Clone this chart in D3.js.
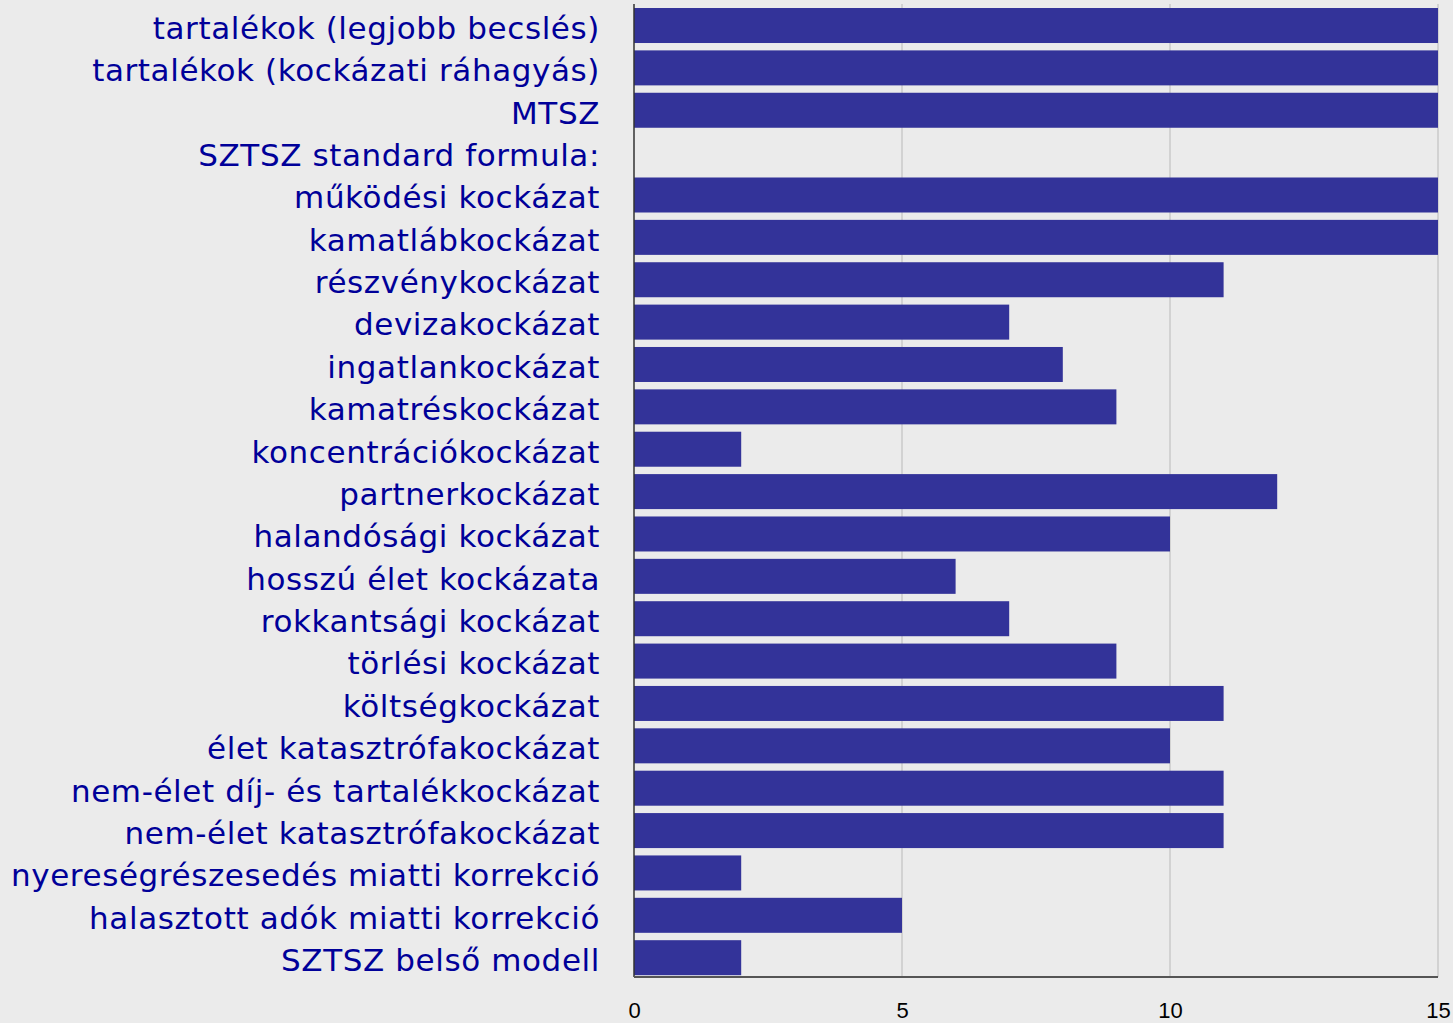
<!DOCTYPE html>
<html>
<head>
<meta charset="utf-8">
<script src="https://cdn.jsdelivr.net/npm/d3@7"></script>
<style>
  body { margin: 0; background: #ebebeb; }
  svg { display: block; }
</style>
</head>
<body>
<div id="chart"></div>
<script>
// Categories (top to bottom) and values
const categories = [
    "tartalékok (legjobb becslés)",
    "tartalékok (kockázati ráhagyás)",
    "MTSZ",
    "SZTSZ standard formula:",
    "működési kockázat",
    "kamatlábkockázat",
    "részvénykockázat",
    "devizakockázat",
    "ingatlankockázat",
    "kamatréskockázat",
    "koncentrációkockázat",
    "partnerkockázat",
    "halandósági kockázat",
    "hosszú élet kockázata",
    "rokkantsági kockázat",
    "törlési kockázat",
    "költségkockázat",
    "élet katasztrófakockázat",
    "nem-élet díj- és tartalékkockázat",
    "nem-élet katasztrófakockázat",
    "nyereségrészesedés miatti korrekció",
    "halasztott adók miatti korrekció",
    "SZTSZ belső modell"
];
const values = [15, 15, 15, null, 15, 15, 11, 7, 8, 9, 2, 12, 10, 6, 7, 9, 11, 10, 11, 11, 2, 5, 2];
const xTicks = [0, 5, 10, 15];

const data = categories.map((c, i) => ({ category: c, value: values[i] }));

const W = 1453, H = 1023;
const margin = { top: 4, right: 15, bottom: 46, left: 634 };
const width = W - margin.left - margin.right,
    height = H - margin.top - margin.bottom;

const svg = d3.select("#chart")
    .append("svg")
    .attr("width", W)
    .attr("height", H);

svg.append("rect")
    .attr("width", W)
    .attr("height", H)
    .attr("fill", "#ebebeb");

const chartSvg = svg.append("g")
    .attr("transform", `translate(${margin.left}, ${margin.top})`);

const x = d3.scaleLinear()
    .domain([0, 15])
    .range([0, width]);

const y = d3.scaleBand()
    .domain(categories)
    .range([0.2, height + 2])
    .paddingInner(0.174)
    .paddingOuter(0.09);

// Gridlines
chartSvg.selectAll(".grid")
    .data(xTicks.filter(d => d > 0))
    .enter()
    .append("line")
        .attr("class", "grid")
        .attr("x1", d => x(d))
        .attr("x2", d => x(d))
        .attr("y1", 0)
        .attr("y2", height)
        .attr("stroke", "#d2d2d2")
        .attr("stroke-width", 2);

// Bars
chartSvg.selectAll(".bar")
    .data(data.filter(d => d.value != null))
    .enter()
    .append("rect")
        .attr("class", "bar")
        .attr("x", x(0))
        .attr("y", d => y(d.category))
        .attr("width", d => x(d.value) - x(0))
        .attr("height", y.bandwidth())
        .attr("fill", "#333399");

// Category labels
chartSvg.selectAll(".label")
    .data(categories)
    .enter()
    .append("text")
        .attr("class", "label")
        .attr("x", -34)
        .attr("y", d => y(d) + y.bandwidth() / 2)
        .attr("dy", "0.43em")
        .attr("text-anchor", "end")
        .style("font-family", "DejaVu Sans, Verdana, sans-serif")
        .style("font-size", "31px")
        .style("letter-spacing", "0.6px")
        .attr("fill", "#000099")
        .text(d => d);

// Axes lines
chartSvg.append("line")
    .attr("x1", 0).attr("x2", 0)
    .attr("y1", 0).attr("y2", height)
    .attr("stroke", "#333").attr("stroke-width", 1.5);
chartSvg.append("line")
    .attr("x1", 0).attr("x2", width)
    .attr("y1", height).attr("y2", height)
    .attr("stroke", "#555").attr("stroke-width", 2);

// X axis tick labels
const xAxis = chartSvg.append("g")
    .attr("transform", `translate(0,${height})`)
    .call(d3.axisBottom(x).tickValues(xTicks).tickSize(0).tickPadding(25));
xAxis.select(".domain").remove();
xAxis.selectAll("text")
    .style("font-family", "Liberation Sans Narrow, Arial Narrow, sans-serif")
    .style("font-size", "22px")
    .attr("fill", "#000");
</script>
</body>
</html>
